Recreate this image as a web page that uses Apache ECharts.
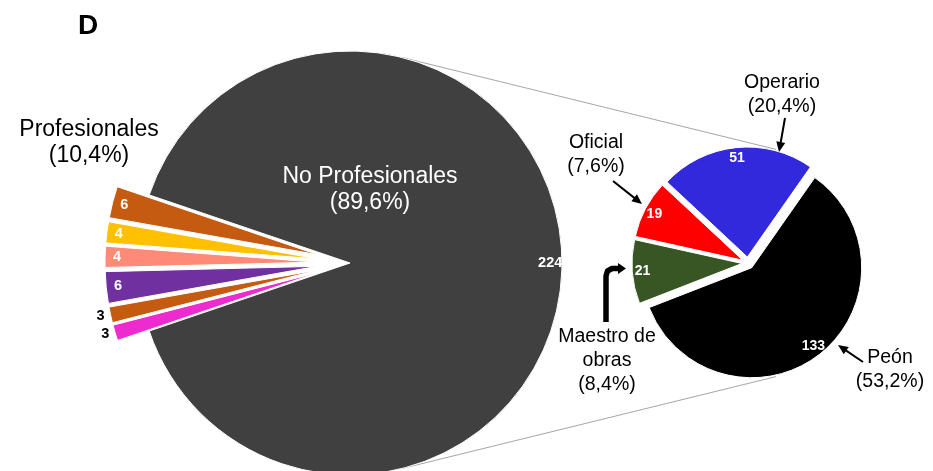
<!DOCTYPE html>
<html>
<head>
<meta charset="utf-8">
<script src="https://cdn.jsdelivr.net/npm/echarts@6/dist/echarts.min.js"></script>
<style>
  html, body { margin: 0; padding: 0; background: #ffffff; }
  #chart { width: 933px; height: 471px; }
</style>
</head>
<body>
<div id="chart"></div>
<script>
// ---- data ----
const panelLetter = 'D';
const profGroupName = 'Profesionales';
const noProfName = 'No Profesionales';
const noProfValue = 224;
// professional groups, listed clockwise from the lower edge of the wedge
const profValues = [3, 3, 6, 4, 4, 6];
const profColors = ['#EE2BCF', '#C55A11', '#7030A0', '#FF8A77', '#FFC000', '#C55A11'];
// breakdown of the non-professional workers
const workerNames = ['Peón', 'Maestro de obras', 'Oficial', 'Operario'];
const workerValues = [133, 21, 19, 51];
const workerColors = ['#000000', '#375623', '#FF0000', '#3229DD'];

// ---- layout ----
const FONT = '"Liberation Sans", Arial, Helvetica, sans-serif';
const L = { cx: 350, cy: 263, r: 212, explode: 33 };
const R = { cx: 748, cy: 263, r: 110, explode: 6, start: 55 };

const profSum = profValues.reduce((a, b) => a + b, 0);
const total = profSum + noProfValue;
const pct = v => (v / total * 100).toFixed(1).replace('.', ',') + '%';
const sliceAngle = v => v / total * 360;

// left pie data: professional slices pulled out, then the large slice
const leftData = profValues.map((v, i) => ({
  name: profGroupName + ' ' + (i + 1), value: v, selected: true,
  itemStyle: { color: profColors[i] }
})).concat([{ name: noProfName, value: noProfValue, itemStyle: { color: '#404040' } }]);
const leftStart = 180 + sliceAngle(profSum) / 2;

const rightData = workerValues.map((v, i) => ({
  name: workerNames[i], value: v, selected: true,
  itemStyle: { color: workerColors[i] }
}));

function pieSeries(data, c, start, r0, labels) {
  const overlay = !!labels;
  return {
    type: 'pie',
    center: [c.cx, c.cy],
    radius: [r0, c.r],
    startAngle: start,
    clockwise: true,
    selectedMode: 'multiple',
    selectedOffset: c.explode,
    avoidLabelOverlap: false,
    silent: overlay,
    z: overlay ? 5 : 3,
    emphasis: { disabled: true },
    data: data.map(d => {
      const o = Object.assign({}, d);
      if (overlay) {
        o.itemStyle = { color: 'rgba(0,0,0,0)', borderWidth: 0 };
        if (sliceAngle(d.value) < 5) {
          o.label = { position: 'outside', color: '#000000', distanceToLabelLine: 1 };
          o.labelLine = { show: false, length: 5, length2: 0 };
        }
      }
      return o;
    }),
    itemStyle: overlay ? { color: 'rgba(0,0,0,0)', borderWidth: 0 }
                       : { borderColor: '#ffffff', borderWidth: 1 },
    select: { itemStyle: overlay ? { color: 'rgba(0,0,0,0)', borderWidth: 0 }
                                  : { borderColor: '#ffffff', borderWidth: 1 } },
    label: overlay ? Object.assign({
      show: true, position: 'inside', formatter: '{c}',
      color: '#ffffff', fontFamily: FONT, fontWeight: 'bold'
    }, labels) : { show: false },
    labelLine: { show: false }
  };
}

// ---- annotations ----
function text(str, x, y, size, color, weight, lh) {
  return {
    type: 'text', z: 20,
    style: {
      text: str, x: x, y: y, fill: color,
      font: (weight || 'normal') + ' ' + size + 'px ' + FONT,
      align: 'center', verticalAlign: 'middle',
      textAlign: 'center', textVerticalAlign: 'middle',
      lineHeight: lh || size * 1.2
    }
  };
}
function arrow(x1, y1, x2, y2, w, headLen, headW) {
  const dx = x2 - x1, dy = y2 - y1, len = Math.hypot(dx, dy);
  const ux = dx / len, uy = dy / len, px = -uy, py = ux;
  const bx = x2 - ux * headLen, by = y2 - uy * headLen;
  return [
    { type: 'line', z: 20, shape: { x1: x1, y1: y1, x2: bx + ux, y2: by + uy },
      style: { stroke: '#000', lineWidth: w } },
    { type: 'polygon', z: 20,
      shape: { points: [[x2, y2], [bx + px * headW / 2, by + py * headW / 2], [bx - px * headW / 2, by - py * headW / 2]] },
      style: { fill: '#000' } }
  ];
}

// lines tangent to both pies
const D = R.cx - L.cx;
const r2 = R.r + R.explode + 1;
const cosA = (L.r - r2) / D, sinA = Math.sqrt(1 - cosA * cosA);
const connectors = [-1, 1].map(s => ({
  type: 'line', z: 1,
  shape: { x1: L.cx + L.r * cosA, y1: L.cy + s * L.r * sinA,
           x2: R.cx + r2 * cosA, y2: R.cy + s * r2 * sinA },
  style: { stroke: '#A6A6A6', lineWidth: 1 }
}));

const wLabel = i => workerNames[i].replace(' obras', '\nobras') + '\n(' + pct(workerValues[i]) + ')';
const labelPos = {
  'Operario': [782, 95], 'Oficial': [596, 155], 'Maestro de obras': [607, 361], 'Peón': [890, 370]
};
const workerTexts = workerNames.map((n, i) => text(wLabel(i), labelPos[n][0], labelPos[n][1], 19.5, '#000', 'normal', 24));

const graphics = [].concat(
  connectors,
  [text(panelLetter, 88, 26, 28, '#000', 'bold')],
  [text(profGroupName + '\n(' + pct(profSum) + ')', 89, 143, 23, '#000', 'normal', 26)],
  [text(noProfName + '\n(' + pct(noProfValue) + ')', 370, 190, 23, '#ffffff', 'normal', 26)],
  workerTexts,
  arrow(785, 118, 779, 152, 2, 10, 9),
  arrow(613, 181, 642, 204, 2, 10, 9),
  arrow(863, 362, 838, 345, 2, 10, 9),
  [{ type: 'polyline', z: 20,
     shape: { points: [[606, 322], [606, 276], [607.5, 271], [612, 268.5], [619, 268.5]] },
     style: { stroke: '#000', lineWidth: 5.5, fill: null, lineJoin: 'round' } },
   { type: 'polygon', z: 20,
     shape: { points: [[626, 268.5], [618, 263], [618, 274]] },
     style: { fill: '#000' } }]
);

const chart = echarts.init(document.getElementById('chart'), null, { renderer: 'canvas' });
chart.setOption({
  animation: false,
  backgroundColor: '#ffffff',
  series: [
    pieSeries(leftData, L, leftStart, 0),
    pieSeries(leftData, L, leftStart, L.r * 0.86, { fontSize: 14.5 }),
    pieSeries(rightData, R, R.start, 0),
    pieSeries(rightData, R, R.start, R.r * 0.76, { fontSize: 14 })
  ],
  graphic: graphics
});
</script>
</body>
</html>
